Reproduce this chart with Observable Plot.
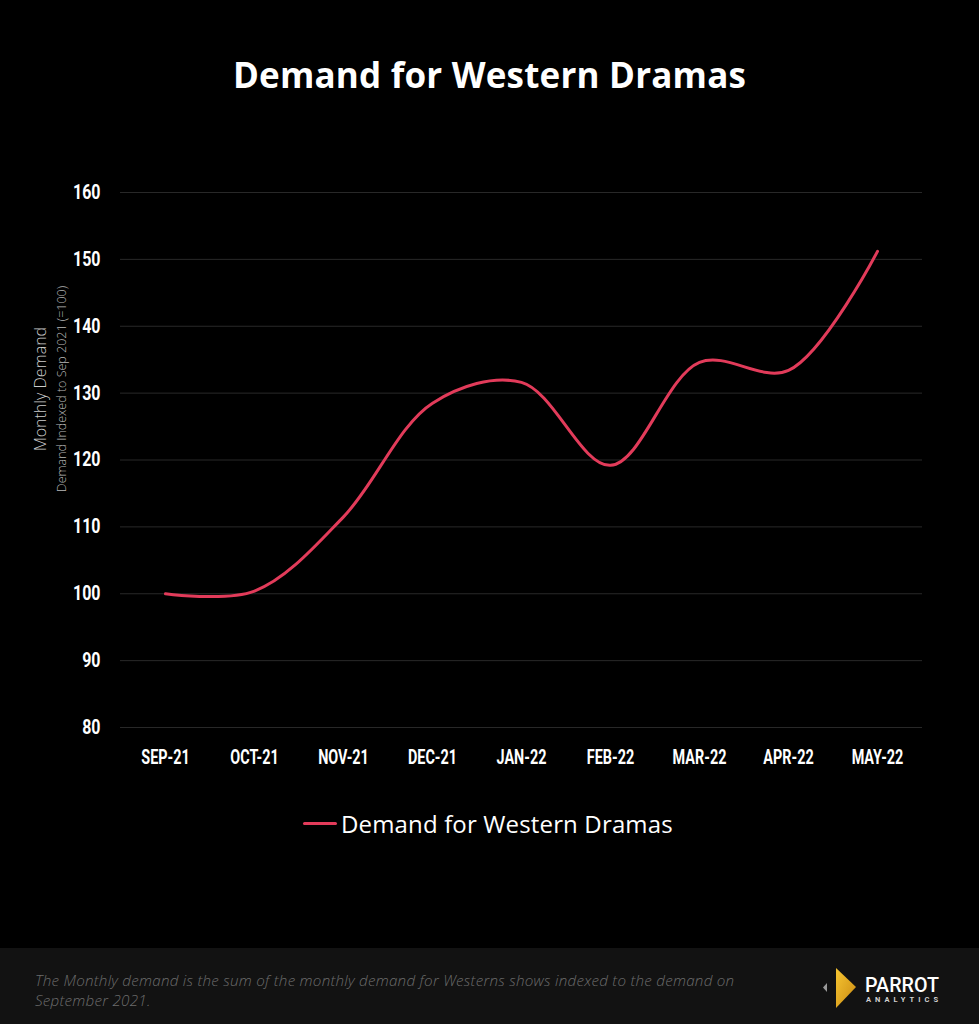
<!DOCTYPE html>
<html>
<head>
<meta charset="utf-8">
<script src="https://cdn.jsdelivr.net/npm/d3@7"></script>
<script src="https://cdn.jsdelivr.net/npm/@observablehq/plot@0.6"></script>
<style>
  html, body { margin: 0; padding: 0; background: #000; }
  body { width: 979px; height: 1024px; position: relative; overflow: hidden; font-family: "Open Sans", sans-serif; }
  #title { position: absolute; top: 51px; left: 0; width: 979px; text-align: center; color: #fff; font: 700 35px "Open Sans", sans-serif; letter-spacing: 0.2px; }
  #chart { position: absolute; top: 0; left: 0; }
  #ytitle { position: absolute; left: 49px; top: 389px; transform: translate(-50%, -50%) rotate(-90deg); text-align: center; white-space: nowrap; }
  #ytitle .t1 { color: #cccccc; font: 300 16px "Open Sans", sans-serif; line-height: 26px; }
  #ytitle .t2 { color: #b8b8b8; font: 300 12.5px "Open Sans", sans-serif; line-height: 18px; }
  #legend { position: absolute; top: 807px; left: 303px; display: flex; align-items: center; color: #fff; font: 400 24px "Open Sans", sans-serif; letter-spacing: 0.15px; }
  #legend .sw { width: 34px; height: 3px; background: #e23b5a; margin-right: 4px; border-radius: 2px; }
  #footer { position: absolute; left: 0; top: 948px; width: 979px; height: 76px; background: #121212; }
  #caption { position: absolute; left: 35px; top: 22px; width: 760px; color: #6c6c6c; font: italic 300 15.2px "Open Sans", sans-serif; line-height: 20px; letter-spacing: 0.25px; }
  #logo { position: absolute; left: 818px; top: 16px; }
</style>
</head>
<body>
<div id="title">Demand for Western Dramas</div>
<div id="chart"></div>
<div id="ytitle"><div class="t1">Monthly Demand</div><div class="t2">Demand Indexed to Sep 2021 (=100)</div></div>
<div id="legend"><div class="sw"></div><span>Demand for Western Dramas</span></div>
<div id="footer">
  <div id="caption">The Monthly demand is the sum of the monthly demand for Westerns shows indexed to the demand on<br>September 2021.</div>
  <svg id="logo" width="130" height="50" viewBox="0 0 130 50">
    <defs>
      <linearGradient id="gold" x1="0" y1="0" x2="1" y2="1">
        <stop offset="0" stop-color="#f7c531"/>
        <stop offset="1" stop-color="#c98a12"/>
      </linearGradient>
    </defs>
    <polygon points="5,23.5 9,19 9,28" fill="#9a9a9a"/>
    <polygon points="18,4 38,23 18,44" fill="url(#gold)"/>
    <text x="47" y="27.5" fill="#fff" font-family="Roboto, sans-serif" font-size="20" font-weight="500" textLength="74" lengthAdjust="spacingAndGlyphs">PARROT</text>
    <text x="48" y="38" fill="#d0d0d0" font-family="Roboto, sans-serif" font-size="7.5" font-weight="700" textLength="72" lengthAdjust="spacing">ANALYTICS</text>
  </svg>
</div>
<script>
const months = ["SEP-21", "OCT-21", "NOV-21", "DEC-21", "JAN-22", "FEB-22", "MAR-22", "APR-22", "MAY-22"];
const demand = [100, 100.4, 111.5, 128.5, 131.6, 119.2, 134.6, 133.4, 151.2];
const yTicks = [80, 90, 100, 110, 120, 130, 140, 150, 160];
const seriesName = "Demand for Western Dramas";

const data = months.map((m, i) => ({month: m, value: demand[i], series: seriesName}));

const chart = Plot.plot({
  width: 979,
  height: 790,
  marginLeft: 120,
  marginRight: 57,
  marginTop: 192,
  marginBottom: 63,
  style: {background: "transparent", color: "#fff", fontFamily: "Roboto, sans-serif", overflow: "visible"},
  x: {type: "point", domain: months, padding: 0.5, label: null},
  y: {domain: [80, 160], label: null},
  marks: [
    Plot.gridY(yTicks, {stroke: "#282828", strokeOpacity: 1, strokeWidth: 1}),
    Plot.axisY(yTicks, {tickSize: 0, tickPadding: 20, fontSize: 20, fontWeight: 700, fill: "#fff", label: null}),
    Plot.axisX(months, {tickSize: 0, tickPadding: 22, fontSize: 20, fontWeight: 700, fill: "#fff", label: null}),
    Plot.line(data, {x: "month", y: "value", curve: "catmull-rom", stroke: "#e23b5a", strokeWidth: 3, strokeLinecap: "round"})
  ]
});
document.getElementById("chart").appendChild(chart);

// condense the tick labels horizontally (the reference uses a condensed face)
function squeeze(sel, sx) {
  chart.querySelectorAll(sel).forEach(t => {
    const tr = t.getAttribute("transform") || "";
    const x = +t.getAttribute("x") || 0, y = +t.getAttribute("y") || 0;
    t.setAttribute("transform", `${tr} translate(${x},${y}) scale(${sx},1) translate(${-x},${-y})`);
  });
}
squeeze('g[aria-label="y-axis tick label"] text', 0.8);
squeeze('g[aria-label="x-axis tick label"] text', 0.72);
</script>
</body>
</html>
